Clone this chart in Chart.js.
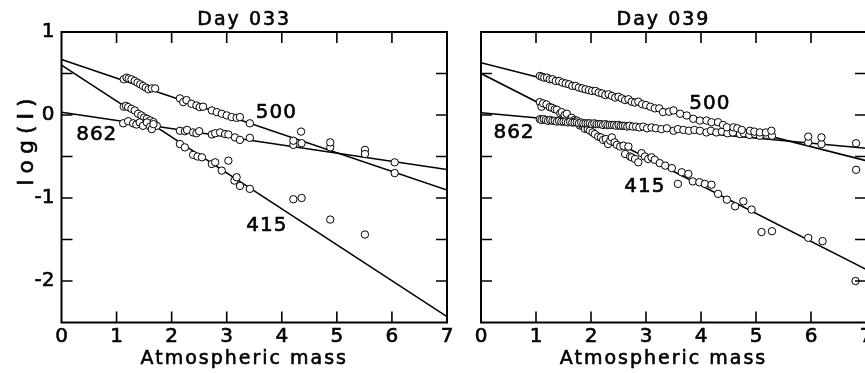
<!DOCTYPE html>
<html>
<head>
<meta charset="utf-8">
<script src="https://cdn.jsdelivr.net/npm/chart.js@4"></script>
<style>
  html, body { margin: 0; padding: 0; background: #fff; overflow: hidden; }
  #wrap { position: relative; width: 865px; height: 373px; overflow: hidden; }
  canvas { position: absolute; top: 0; }
  #day33 { left: 0; }
  #day39 { left: 465px; }
</style>
</head>
<body>
<div id="wrap">
  <canvas id="day33" width="465" height="373"></canvas>
  <canvas id="day39" width="420" height="373"></canvas>
</div>
<script>
// wavelengths (nm) used as series names
const bands = ["500", "862", "415"];
const xTicks = [1, 2, 3, 4, 5, 6];
const yTicks = [0.5, 0, -0.5, -1, -1.5, -2];

// Day 033 measurements [airmass, log(I)]
const d33_500 = [[1.13,0.43],[1.18,0.45],[1.22,0.44],[1.27,0.43],[1.33,0.41],[1.38,0.39],[1.43,0.37],[1.48,0.35],[1.53,0.33],[1.58,0.31],[1.64,0.32],[1.70,0.32],
  [2.15,0.20],[2.21,0.155],[2.27,0.18],[2.36,0.135],[2.45,0.115],[2.51,0.095],[2.57,0.10],[2.73,0.055],[2.82,0.035],[2.91,0.015],[3.00,-0.005],[3.09,-0.025],[3.18,-0.035],[3.24,-0.025],[3.42,-0.10],
  [4.21,-0.31],[4.35,-0.20],[4.88,-0.33],[5.51,-0.47],[6.05,-0.70]];
const d33_862 = [[1.12,-0.10],[1.21,-0.075],[1.30,-0.10],[1.36,-0.115],[1.42,-0.09],[1.48,-0.13],[1.55,-0.09],[1.61,-0.14],[1.64,-0.17],[1.67,-0.11],
  [2.15,-0.19],[2.24,-0.195],[2.28,-0.18],[2.39,-0.21],[2.45,-0.22],[2.50,-0.195],[2.73,-0.235],[2.79,-0.22],[2.88,-0.21],[2.97,-0.23],[3.03,-0.235],[3.15,-0.27],[3.24,-0.30],[3.42,-0.275],
  [4.21,-0.36],[4.36,-0.34],[4.88,-0.39],[5.51,-0.42],[6.05,-0.57]];
const d33_415 = [[1.13,0.10],[1.17,0.11],[1.21,0.095],[1.27,0.075],[1.33,0.055],[1.39,0.015],[1.45,-0.005],[1.50,-0.03],[1.55,-0.045],[1.61,-0.065],[1.67,-0.085],[1.73,-0.13],
  [2.15,-0.35],[2.24,-0.39],[2.39,-0.48],[2.47,-0.50],[2.55,-0.51],[2.73,-0.59],[2.79,-0.57],[2.91,-0.67],[3.03,-0.55],[3.14,-0.79],[3.18,-0.75],[3.24,-0.855],[3.42,-0.89],
  [4.21,-1.015],[4.36,-1.00],[4.88,-1.26],[5.51,-1.44]];

// Day 039 measurements
const d39_500 = [[1.07,0.47],[1.11,0.46],[1.15,0.45],[1.20,0.45],[1.25,0.43],[1.30,0.43],[1.36,0.41],[1.42,0.41],[1.48,0.39],[1.54,0.38],[1.60,0.37],[1.66,0.35],[1.72,0.35],[1.78,0.33],[1.84,0.32],[1.90,0.31],[1.96,0.30],[2.02,0.29],[2.08,0.29],[2.14,0.27],[2.20,0.26],[2.26,0.24],[2.32,0.25],[2.38,0.23],[2.44,0.21],[2.50,0.22],[2.56,0.20],[2.62,0.18],[2.68,0.19],[2.74,0.16],[2.80,0.15],[2.86,0.16],[2.93,0.13],[3.00,0.12],[3.08,0.10],[3.16,0.08],[3.24,0.08],[3.31,0.035],[3.42,0.04],[3.50,0.055],[3.62,0.015],[3.74,-0.006],[3.86,-0.046],[3.98,-0.067],[4.10,-0.067],[4.19,-0.087],[4.31,-0.087],[4.40,-0.12],[4.47,-0.148],[4.59,-0.148],[4.66,-0.16],[4.74,-0.18],[4.89,-0.19],[4.97,-0.20],[5.07,-0.21],[5.18,-0.21],[5.28,-0.19],
  [5.95,-0.26],[6.19,-0.27],[6.82,-0.66]];
const d39_862 = [[1.07,-0.05],[1.10,-0.06],[1.14,-0.05],[1.18,-0.06],[1.22,-0.07],[1.26,-0.06],[1.30,-0.07],[1.34,-0.07],[1.38,-0.08],[1.42,-0.07],[1.46,-0.08],[1.50,-0.08],[1.54,-0.08],[1.58,-0.09],[1.62,-0.08],[1.66,-0.09],[1.70,-0.09],[1.74,-0.09],[1.78,-0.10],[1.82,-0.09],[1.86,-0.10],[1.90,-0.10],[1.94,-0.10],[1.98,-0.10],[2.02,-0.11],[2.06,-0.10],[2.10,-0.11],[2.14,-0.11],[2.18,-0.11],[2.22,-0.12],[2.26,-0.11],[2.30,-0.12],[2.34,-0.12],[2.38,-0.12],[2.42,-0.12],[2.46,-0.13],[2.50,-0.12],[2.54,-0.13],[2.58,-0.13],[2.62,-0.13],[2.66,-0.14],[2.70,-0.13],[2.76,-0.14],[2.82,-0.14],[2.88,-0.15],[2.95,-0.14],[3.02,-0.16],[3.10,-0.15],[3.18,-0.16],[3.28,-0.17],[3.38,-0.16],[3.50,-0.19],[3.58,-0.17],[3.68,-0.18],[3.78,-0.19],[3.88,-0.18],[3.98,-0.19],[4.10,-0.21],[4.18,-0.19],[4.28,-0.21],[4.38,-0.20],[4.48,-0.22],[4.58,-0.21],[4.71,-0.23],[4.78,-0.22],[4.88,-0.24],[4.98,-0.23],[5.07,-0.25],[5.19,-0.24],[5.29,-0.25],
  [5.95,-0.33],[6.19,-0.35],[6.82,-0.34]];
const d39_415 = [[1.07,0.155],[1.10,0.10],[1.13,0.14],[1.19,0.127],[1.25,0.095],[1.29,0.087],[1.34,0.07],[1.38,0.063],[1.44,0.02],[1.47,0.034],[1.52,0.00],[1.56,0.015],[1.62,-0.05],[1.65,-0.034],[1.70,-0.06],[1.74,-0.067],[1.80,-0.127],[1.84,-0.12],[1.89,-0.167],[1.94,-0.17],[1.98,-0.19],[2.03,-0.21],[2.07,-0.23],[2.13,-0.26],[2.18,-0.27],[2.22,-0.30],[2.27,-0.29],[2.31,-0.35],[2.35,-0.31],[2.38,-0.27],[2.43,-0.33],[2.47,-0.36],[2.53,-0.38],[2.59,-0.37],[2.62,-0.47],[2.68,-0.38],[2.71,-0.50],[2.74,-0.51],[2.80,-0.53],[2.86,-0.57],[2.92,-0.46],[2.98,-0.50],[3.04,-0.53],[3.10,-0.51],[3.16,-0.54],[3.25,-0.58],[3.35,-0.61],[3.47,-0.64],[3.58,-0.83],[3.65,-0.69],[3.77,-0.71],[3.85,-0.80],[3.97,-0.81],[4.07,-0.83],[4.19,-0.84],[4.31,-0.95],[4.47,-1.02],[4.62,-1.10],[4.77,-1.04],[4.92,-1.14],[5.10,-1.41],[5.29,-1.40],[5.95,-1.48],[6.21,-1.52],[6.81,-2.00]];

// fitted lines (end points)
const fit33_500 = [[0,0.67],[7,-0.905]];
const fit33_862 = [[0,0.034],[7,-0.657]];
const fit33_415 = [[0,0.60],[7,-2.43]];
const fit39_500 = [[0,0.63],[7,-0.55]];
const fit39_862 = [[0,0.027],[7,-0.40]];
const fit39_415 = [[0,0.50],[7,-1.86]];

const FONT = '"DejaVu Sans", Verdana, sans-serif';
Chart.defaults.color = '#000';
Chart.defaults.font.family = FONT;

const xy = arr => arr.map(p => ({ x: p[0], y: p[1] }));

function heavyText(ctx, s, x, y) {
  ctx.strokeText(s, x, y);
  ctx.fillText(s, x, y);
}

// frame, inward ticks and free text
const decor = {
  id: 'decor',
  afterDraw(chart, args, o) {
    const { ctx, chartArea: a, scales: { x, y } } = chart;
    ctx.save();
    ctx.strokeStyle = '#000';
    ctx.lineWidth = 2;
    ctx.strokeRect(a.left, a.top, a.right - a.left, a.bottom - a.top);
    ctx.lineWidth = 1.6;
    ctx.beginPath();
    xTicks.forEach(v => {
      const px = x.getPixelForValue(v);
      ctx.moveTo(px, a.bottom); ctx.lineTo(px, a.bottom - 11);
      ctx.moveTo(px, a.top); ctx.lineTo(px, a.top + 11);
    });
    yTicks.forEach(v => {
      const py = y.getPixelForValue(v);
      ctx.moveTo(a.left, py); ctx.lineTo(a.left + 11, py);
      ctx.moveTo(a.right, py); ctx.lineTo(a.right - 11, py);
    });
    ctx.stroke();

    ctx.fillStyle = '#000';
    ctx.lineWidth = 0.6;
    ctx.lineJoin = 'round';
    const mid = (a.left + a.right) / 2 - 10;
    ctx.textAlign = 'center';
    ctx.textBaseline = 'alphabetic';
    ctx.font = '19px ' + FONT;
    ctx.letterSpacing = '2px';
    heavyText(ctx, o.title, mid, 25);
    heavyText(ctx, 'Atmospheric mass', mid, 364);

    ctx.font = '20px ' + FONT;
    ctx.letterSpacing = '1px';
    ctx.textBaseline = 'middle';
    bands.forEach((b, i) => {
      const p = o.labels[i];
      heavyText(ctx, b, x.getPixelForValue(p[0]), y.getPixelForValue(p[1]));
    });

    if (o.yTitle) {
      ctx.translate(33, 142);
      ctx.rotate(-Math.PI / 2);
      ctx.font = '22px ' + FONT;
      ctx.letterSpacing = '6px';
      ctx.textBaseline = 'alphabetic';
      heavyText(ctx, 'log(I)', 3, 0);
    }
    ctx.restore();
  }
};

function panel(id, title, pts, fits, labels, showY, yWidth, padRight) {
  const datasets = [];
  fits.forEach(f => datasets.push({
    data: xy(f), showLine: true, pointRadius: 0, borderColor: '#000', borderWidth: 1.6, order: 2
  }));
  pts.forEach(p => datasets.push({
    data: xy(p), pointRadius: 3.7, pointBorderWidth: 1,
    pointBackgroundColor: '#fff', pointBorderColor: '#000', order: 1
  }));
  const tickFont = { size: 20 };
  new Chart(document.getElementById(id), {
    type: 'scatter',
    data: { datasets },
    plugins: [decor],
    options: {
      responsive: false,
      animation: false,
      events: [],
      layout: { padding: { top: 32, left: 0, right: padRight, bottom: 0 } },
      plugins: {
        legend: { display: false },
        tooltip: { enabled: false },
        decor: { title, labels, yTitle: showY }
      },
      scales: {
        x: {
          type: 'linear', min: 0, max: 7,
          grid: { display: false, drawTicks: false },
          border: { display: false },
          ticks: { stepSize: 1, padding: 2, font: tickFont, color: '#000',
                   textStrokeColor: '#000', textStrokeWidth: 0.6 },
          afterFit: s => { s.height = 50.5; }
        },
        y: {
          type: 'linear', min: -2.5, max: 1,
          grid: { display: false, drawTicks: false },
          border: { display: false },
          ticks: {
            display: showY, stepSize: 0.5, autoSkip: false, padding: 7,
            font: tickFont, color: '#000', textStrokeColor: '#000', textStrokeWidth: 0.6,
            callback: v => Number.isInteger(v) ? String(v) : ''
          },
          afterFit: s => { s.width = yWidth; }
        }
      }
    }
  });
}

panel('day33', 'Day 033', [d33_500, d33_862, d33_415], [fit33_500, fit33_862, fit33_415],
  [[3.90, 0.03], [0.64, -0.24], [3.73, -1.34]], true, 61.5, 18);
panel('day39', 'Day 039', [d39_500, d39_862, d39_415], [fit39_500, fit39_862, fit39_415],
  [[4.16, 0.14], [0.60, -0.22], [2.98, -0.87]], false, 16, 19);
</script>
</body>
</html>
